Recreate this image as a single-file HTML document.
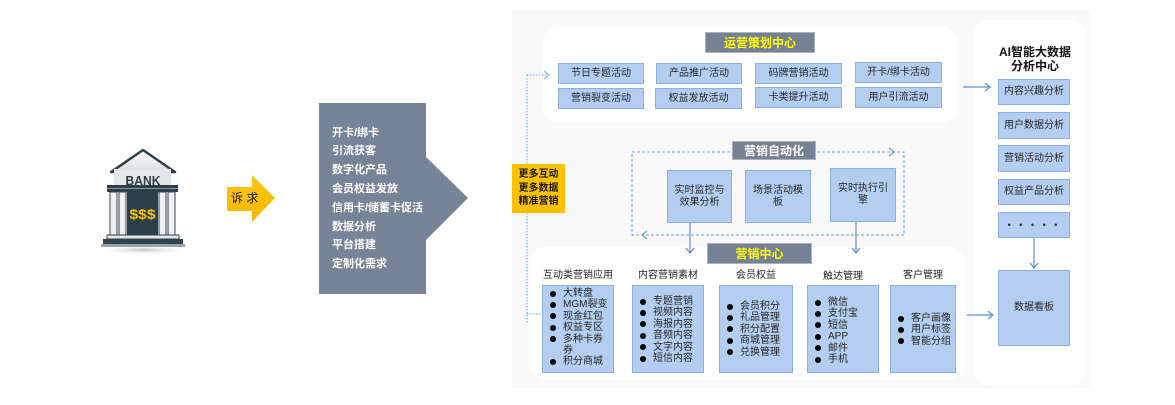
<!DOCTYPE html>
<html>
<head>
<meta charset="utf-8">
<style>
html,body{margin:0;padding:0;background:#fff;}
body{width:1175px;height:405px;position:relative;overflow:hidden;font-family:"Liberation Sans","Noto Sans CJK SC",sans-serif;color:#262626;}
.a{position:absolute;box-sizing:border-box;}
.bx{position:absolute;box-sizing:border-box;background:#b3cef0;border:1px solid #89b0e0;display:flex;align-items:center;justify-content:center;text-align:center;font-size:10px;line-height:12px;color:#262626;}
.tt{position:absolute;box-sizing:border-box;background:#768293;border:1px solid #aab2bd;display:flex;align-items:center;justify-content:center;font-size:12px;font-weight:bold;}
.hd{position:absolute;font-size:10px;text-align:center;line-height:12px;color:#262626;}
.ls{position:absolute;box-sizing:border-box;background:#b3cef0;border:1px solid #89b0e0;font-size:10px;line-height:11.4px;color:#262626;}
.ls div{position:relative;padding-left:20px;white-space:nowrap;}
.ls div:before{content:"";position:absolute;left:7px;top:2.5px;width:6px;height:6px;border-radius:50%;background:#000;}
.ls div.c:before{display:none;}
</style>
</head>
<body>
<svg class="a" style="left:0;top:0" width="1175" height="405" viewBox="0 0 1175 405">
  <defs>
    <radialGradient id="sh" cx="50%" cy="50%" r="50%">
      <stop offset="0" stop-color="#bfc3c6"/>
      <stop offset="1" stop-color="#ffffff" stop-opacity="0"/>
    </radialGradient>
    <linearGradient id="roof" x1="0" y1="0" x2="0" y2="1">
      <stop offset="0" stop-color="#ffffff"/>
      <stop offset="1" stop-color="#d9dde0"/>
    </linearGradient>
    <linearGradient id="yl" x1="0" y1="0" x2="0" y2="1">
      <stop offset="0" stop-color="#ffc61a"/>
      <stop offset="1" stop-color="#f5b800"/>
    </linearGradient>
  </defs>
  <!-- background panels -->
  <rect x="512" y="10" width="578" height="378" fill="#f9f9fa"/>
  <rect x="543" y="27" width="415" height="96" rx="16" fill="#ffffff"/>
  <rect x="530" y="247" width="435" height="133" rx="16" fill="#ffffff"/>
  <rect x="973" y="20" width="114" height="365" rx="16" fill="#ffffff"/>

  <!-- bank icon -->
  <ellipse cx="143" cy="250" rx="48" ry="5" fill="url(#sh)"/>
  <rect x="101" y="244" width="84" height="3" fill="#9aa3a9"/>
  <rect x="103" y="239" width="80" height="5" fill="#33434e"/>
  <rect x="107" y="235" width="72" height="4" fill="#e3e6e8" stroke="#33434e" stroke-width="1"/>
  <rect x="127" y="191" width="31" height="44" fill="#2f3f49"/>
  <rect x="110" y="192" width="7" height="43" fill="#eef0f1" stroke="#33434e" stroke-width="1"/>
  <rect x="119" y="192" width="7" height="43" fill="#eef0f1" stroke="#33434e" stroke-width="1"/>
  <rect x="159" y="192" width="7" height="43" fill="#eef0f1" stroke="#33434e" stroke-width="1"/>
  <rect x="168" y="192" width="7" height="43" fill="#eef0f1" stroke="#33434e" stroke-width="1"/>
  <rect x="107" y="185" width="71" height="7" fill="#2f3f49"/>
  <rect x="107" y="188" width="71" height="1" fill="#8a969e"/>
  <polygon points="143,150 175,172 111,172" fill="url(#roof)" stroke="#2f3f49" stroke-width="2.5" stroke-linejoin="round"/>
  <rect x="114" y="169" width="57" height="16" fill="#e4e7e9"/>
  <text x="143" y="185" text-anchor="middle" font-family="Liberation Sans, sans-serif" font-weight="bold" font-size="13" fill="#2b3b47" textLength="35" lengthAdjust="spacingAndGlyphs">BANK</text>
  <text x="142.5" y="219" text-anchor="middle" font-family="Liberation Sans, sans-serif" font-weight="bold" font-size="14" fill="#f4c20d" textLength="26" lengthAdjust="spacingAndGlyphs">$$$</text>

  <!-- 诉求 arrow -->
  <polygon points="227,187 252,187 252,175 275,198 252,222 252,211 227,211" fill="url(#yl)"/>

  <!-- gray arrow -->
  <polygon points="319,103 426,103 426,157 468,198 426,240 426,294 319,294" fill="#778396"/>

  <!-- left dotted connector -->
  <g stroke="#8eb4e3" stroke-width="1.3" fill="none" stroke-dasharray="1.5,1.5">
    <line x1="527" y1="75" x2="527" y2="323"/>
    <line x1="527" y1="75" x2="547" y2="75"/>
    <line x1="527" y1="314" x2="542" y2="314"/>
  </g>
  <polyline points="544,71 549,75 544,79" fill="none" stroke="#8eb4e3" stroke-width="1.2"/>

  <!-- automation dashed loop -->
  <g stroke="#6f9bd8" stroke-width="1" fill="none" stroke-dasharray="3,2">
    <rect x="632" y="152" width="272" height="83"/>
  </g>
  <polyline points="889,148 894,152 889,156" fill="none" stroke="#6f9bd8" stroke-width="1.2"/>
  <polyline points="647,231 642,235 647,239" fill="none" stroke="#6f9bd8" stroke-width="1.2"/>

  <!-- solid arrows -->
  <g stroke="#5b8fd6" stroke-width="1.2" fill="none">
    <line x1="690" y1="223" x2="690" y2="253"/>
    <polyline points="686,248 690,253 694,248"/>
    <line x1="856" y1="222" x2="856" y2="253"/>
    <polyline points="852,248 856,253 860,248"/>
    <line x1="963" y1="87" x2="990" y2="87"/>
    <polyline points="985,83 990,87 985,91"/>
    <line x1="967" y1="315" x2="993" y2="315"/>
    <polyline points="988,311 993,315 988,319"/>
    <line x1="1034" y1="238" x2="1034" y2="268"/>
    <polyline points="1030,263 1034,268 1038,263"/>
  </g>
</svg>

<!-- 诉求 text -->
<div class="a" style="left:231px;top:190px;width:36px;font-size:12px;line-height:16px;color:#1a1a1a;">诉 求</div>

<!-- gray box text -->
<div class="a" style="left:332px;top:123.6px;font-size:11px;line-height:18.8px;font-weight:bold;color:#fff;white-space:nowrap;">
开卡/绑卡<br>引流获客<br>数字化产品<br>会员权益发放<br>信用卡/储蓄卡促活<br>数据分析<br>平台搭建<br>定制化需求
</div>

<!-- yellow box -->
<div class="a" style="left:512px;top:164px;width:53px;height:49px;background:#ffc000;display:flex;align-items:center;justify-content:center;text-align:center;font-size:10px;line-height:13.5px;font-weight:bold;color:#1a1a1a;">更多互动<br>更多数据<br>精准营销</div>

<!-- 运营策划中心 -->
<div class="tt" style="left:705px;top:32px;width:110px;height:21px;color:#ffff00;">运营策划中心</div>
<div class="bx" style="left:558px;top:63px;width:86px;height:21px;">节日专题活动</div>
<div class="bx" style="left:656px;top:63px;width:86px;height:21px;">产品推广活动</div>
<div class="bx" style="left:755px;top:63px;width:87px;height:21px;">码牌营销活动</div>
<div class="bx" style="left:855px;top:62px;width:87px;height:21px;">开卡/绑卡活动</div>
<div class="bx" style="left:558px;top:88px;width:86px;height:21px;">营销裂变活动</div>
<div class="bx" style="left:655px;top:88px;width:87px;height:21px;">权益发放活动</div>
<div class="bx" style="left:755px;top:87px;width:87px;height:21px;">卡类提升活动</div>
<div class="bx" style="left:855px;top:87px;width:87px;height:21px;">用户引流活动</div>

<!-- 营销自动化 -->
<div class="tt" style="left:732px;top:141px;width:84px;height:19px;color:#ffffff;">营销自动化</div>
<div class="bx" style="left:667px;top:170px;width:65px;height:53px;">实时监控与<br>效果分析</div>
<div class="bx" style="left:745px;top:170px;width:66px;height:53px;">场景活动模<br>板</div>
<div class="bx" style="left:830px;top:168px;width:66px;height:54px;">实时执行引<br>擎</div>

<!-- 营销中心 -->
<div class="tt" style="left:707px;top:243px;width:105px;height:21px;color:#ffff00;">营销中心</div>

<div class="hd" style="left:536px;top:270px;width:84px;">互动类营销应用</div>
<div class="hd" style="left:628px;top:270px;width:80px;">内容营销素材</div>
<div class="hd" style="left:716px;top:270px;width:80px;">会员权益</div>
<div class="hd" style="left:803px;top:271px;width:80px;">触达管理</div>
<div class="hd" style="left:883px;top:270px;width:80px;">客户管理</div>

<div class="ls" style="left:542px;top:285px;width:72px;height:88px;padding-top:2px;">
  <div>大转盘</div><div>MGM裂变</div><div>现金红包</div><div>权益专区</div><div>多种卡券</div><div class="c">券</div><div>积分商城</div>
</div>
<div class="ls" style="left:632px;top:285px;width:72px;height:88px;padding-top:10px;">
  <div>专题营销</div><div>视频内容</div><div>海报内容</div><div>音频内容</div><div>文字内容</div><div>短信内容</div>
</div>
<div class="ls" style="left:719px;top:285px;width:74px;height:88px;padding-top:15px;">
  <div>会员积分</div><div>礼品管理</div><div>积分配置</div><div>商城管理</div><div>兑换管理</div>
</div>
<div class="ls" style="left:807px;top:285px;width:72px;height:88px;padding-top:11px;">
  <div>微信</div><div>支付宝</div><div>短信</div><div>APP</div><div>邮件</div><div>手机</div>
</div>
<div class="ls" style="left:890px;top:285px;width:66px;height:88px;padding-top:27px;">
  <div>客户画像</div><div>用户标签</div><div>智能分组</div>
</div>

<!-- AI panel -->
<div class="a" style="left:990px;top:45px;width:90px;text-align:center;font-size:12px;line-height:14px;font-weight:bold;color:#111;">AI智能大数据<br>分析中心</div>
<div class="bx" style="left:998px;top:79px;width:72px;height:26px;">内容兴趣分析</div>
<div class="bx" style="left:998px;top:112px;width:72px;height:27px;">用户数据分析</div>
<div class="bx" style="left:998px;top:145px;width:72px;height:27px;">营销活动分析</div>
<div class="bx" style="left:998px;top:179px;width:72px;height:26px;">权益产品分析</div>
<div class="bx" style="left:998px;top:212px;width:72px;height:26px;font-size:9px;letter-spacing:3px;">• • • • •</div>
<div class="bx" style="left:998px;top:270px;width:72px;height:76px;">数据看板</div>

</body>
</html>
